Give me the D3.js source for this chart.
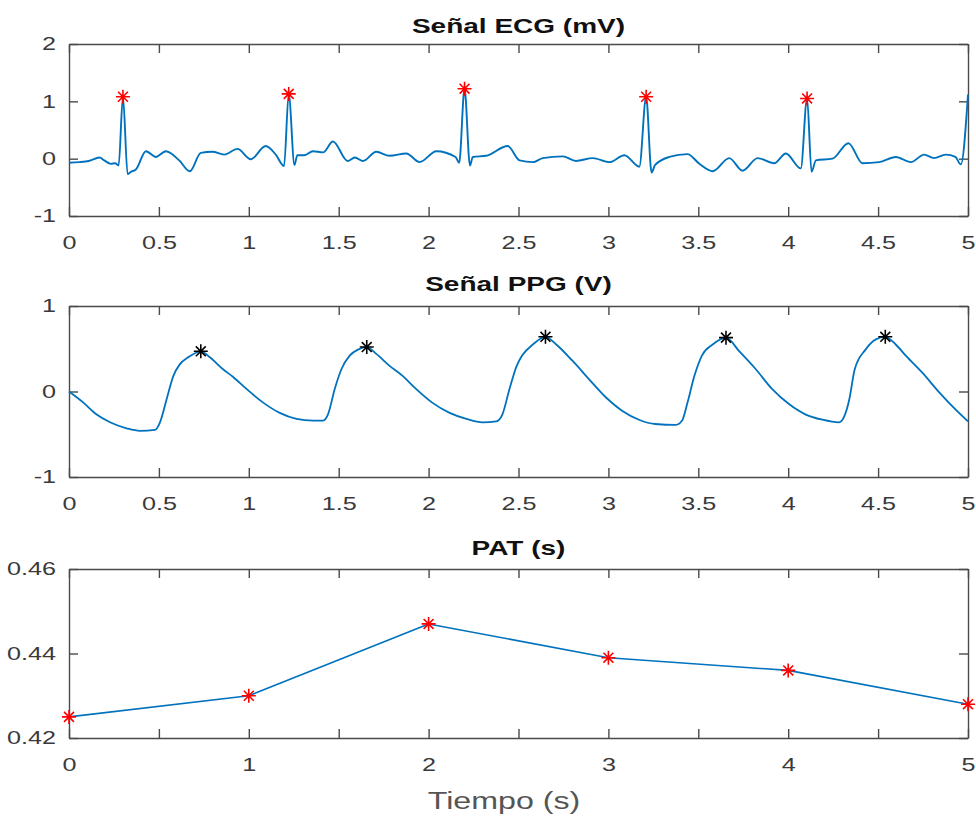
<!DOCTYPE html>
<html>
<head>
<meta charset="utf-8">
<script src="https://cdn.jsdelivr.net/npm/d3@7"></script>
<style>
  body { margin: 0; background: #fff; }
  svg text { font-family: "Liberation Sans", Arial, sans-serif; }
</style>
</head>
<body>
<svg id="fig" width="976" height="820"></svg>
<script>
// ---- ECG signal (mV) ----
const ecgTime = [0.000,0.057,0.110,0.170,0.196,0.233,0.257,0.276,0.300,0.326,0.344,0.372,0.428,0.483,0.539,0.613,0.672,0.733,0.798,0.863,0.937,1.011,1.094,1.150,1.196,1.222,1.254,1.270,1.307,1.357,1.413,1.468,1.550,1.590,1.635,1.709,1.783,1.876,1.950,2.043,2.150,2.170,2.200,2.230,2.246,2.320,2.440,2.506,2.580,2.635,2.746,2.820,2.913,3.006,3.089,3.172,3.210,3.240,3.260,3.339,3.440,3.506,3.580,3.672,3.746,3.830,3.922,3.987,4.070,4.105,4.130,4.154,4.246,4.335,4.413,4.506,4.598,4.682,4.756,4.811,4.876,4.930,4.960,5.000];
const ecgValue = [-0.07,-0.06,-0.04,0.02,-0.03,-0.09,-0.08,-0.12,1.08,-0.27,-0.23,-0.19,0.13,0.03,0.13,-0.03,-0.22,0.10,0.12,0.07,0.17,-0.01,0.22,0.07,-0.13,1.13,-0.11,0.06,0.06,0.13,0.11,0.30,-0.04,0.02,-0.04,0.12,0.05,0.09,-0.06,0.13,0.03,-0.07,1.22,-0.12,0.03,0.05,0.22,-0.03,-0.06,0.01,0.04,-0.04,0.01,-0.06,0.06,-0.14,1.08,-0.24,-0.11,0.03,0.08,-0.09,-0.22,0.01,-0.21,0.01,-0.08,0.09,-0.17,1.05,-0.23,-0.03,0.00,0.27,-0.08,-0.06,0.03,-0.06,0.07,0.01,0.07,0.03,-0.10,1.12];
// R peaks
const rPeakTime  = [0.300,1.222,2.200,3.210,4.105];
const rPeakValue = [1.08,1.13,1.22,1.08,1.05];

// ---- PPG signal (V) ----
const ppgTime = [0.000,0.080,0.154,0.228,0.320,0.394,0.478,0.506,0.543,0.580,0.617,0.663,0.733,0.783,0.857,0.913,0.987,1.080,1.172,1.265,1.357,1.413,1.440,1.478,1.515,1.561,1.607,1.656,1.709,1.783,1.857,1.930,2.020,2.117,2.210,2.300,2.376,2.410,2.450,2.490,2.520,2.580,2.650,2.710,2.800,2.894,2.987,3.080,3.170,3.260,3.376,3.410,3.440,3.478,3.520,3.580,3.654,3.728,3.820,3.910,4.006,4.098,4.190,4.283,4.310,4.340,4.370,4.430,4.487,4.540,4.598,4.654,4.746,4.840,4.930,5.000];
const ppgValue = [0.00,-0.13,-0.27,-0.36,-0.43,-0.46,-0.45,-0.36,-0.09,0.18,0.32,0.40,0.47,0.40,0.26,0.17,0.03,-0.13,-0.25,-0.32,-0.34,-0.34,-0.27,0.03,0.26,0.42,0.49,0.52,0.44,0.30,0.18,0.03,-0.13,-0.25,-0.32,-0.36,-0.35,-0.27,0.03,0.30,0.42,0.55,0.64,0.55,0.36,0.14,-0.07,-0.23,-0.33,-0.38,-0.39,-0.34,-0.13,0.18,0.42,0.55,0.63,0.47,0.26,0.03,-0.15,-0.27,-0.33,-0.36,-0.30,-0.09,0.26,0.49,0.61,0.64,0.55,0.42,0.22,-0.01,-0.21,-0.35];
// PPG systolic peaks
const ppgPeakTime  = [0.733,1.656,2.650,3.654,4.540];
const ppgPeakValue = [0.47,0.52,0.64,0.63,0.64];

// ---- Pulse arrival time (s) ----
const patTime  = [0,1,2,3,4,5];
const patValue = [0.425,0.430,0.447,0.439,0.436,0.428];

// ---- tick values ----
const timeTicks   = [0,0.5,1,1.5,2,2.5,3,3.5,4,4.5,5];
const patTimeLabels = [0,1,2,3,4,5];
const ecgYTicks   = [-1,0,1,2];
const ppgYTicks   = [-1,0,1];
const patYTicks   = [0.42,0.44,0.46];

// ---- text ----
const titles = ["Señal ECG (mV)", "Señal PPG (V)", "PAT (s)"];
const xLabelText = "Tiempo (s)";

// ---- drawing ----
const W = 976, H = 820;
const LEFT = 69, RIGHT = 968;
const LINE = "#0072BD", AXC = "#4a4a4a", TXT = "#3a3a3a";
const SX = 1.4;       // horizontal text stretch of the figure
const TICK = 9;

const svg = d3.select("#fig");
svg.append("rect").attr("width", W).attr("height", H).attr("fill", "#fff");

const x = d3.scaleLinear().domain([0, 5]).range([LEFT, RIGHT]);

function stretchedText(g, px, py, str, size, weight, anchor, fill) {
  return g.append("text")
    .attr("transform", `translate(${px},${py}) scale(${SX},1)`)
    .attr("text-anchor", anchor)
    .attr("font-size", size)
    .attr("font-weight", weight)
    .attr("fill", fill)
    .text(str);
}

function asterisk(r) {
  const a = r * 0.7071;
  return `M${-r},0L${r},0M0,${-r}L0,${r}M${-a},${-a}L${a},${a}M${-a},${a}L${a},${-a}`;
}

function panel(opts) {
  const { top, bottom, yDomain, yTicks, xLabels, title, titleY } = opts;
  const y = d3.scaleLinear().domain(yDomain).range([bottom, top]);
  const g = svg.append("g");

  const fmtX = d => (xLabels.includes(d) ? String(d) : "");
  const styleAxis = sel => {
    sel.select(".domain").attr("stroke", AXC).attr("stroke-width", 1.4);
    sel.selectAll(".tick line").attr("stroke", AXC).attr("stroke-width", 1.4);
    sel.selectAll("text").attr("font-size", 18).attr("fill", TXT)
       .attr("font-family", "Liberation Sans, Arial, sans-serif");
  };

  // bottom
  const gb = g.append("g").attr("transform", `translate(0,${bottom})`)
    .call(d3.axisBottom(x).tickValues(timeTicks).tickFormat(fmtX)
      .tickSizeInner(-TICK).tickSizeOuter(0).tickPadding(20));
  styleAxis(gb);
  gb.selectAll("text").attr("transform", `scale(${SX},1)`);
  // top
  const gt = g.append("g").attr("transform", `translate(0,${top})`)
    .call(d3.axisTop(x).tickValues(timeTicks).tickFormat("")
      .tickSizeInner(-TICK).tickSizeOuter(0));
  styleAxis(gt);
  // left
  const gl = g.append("g").attr("transform", `translate(${LEFT},0)`)
    .call(d3.axisLeft(y).tickValues(yTicks).tickFormat(d => String(d))
      .tickSizeInner(-TICK).tickSizeOuter(0).tickPadding(13));
  styleAxis(gl);
  gl.selectAll("text").attr("x", -13 / SX).attr("transform", `scale(${SX},1)`);
  // right
  const gr = g.append("g").attr("transform", `translate(${RIGHT},0)`)
    .call(d3.axisRight(y).tickValues(yTicks).tickFormat("")
      .tickSizeInner(-TICK).tickSizeOuter(0));
  styleAxis(gr);

  stretchedText(g, (LEFT + RIGHT) / 2, titleY, title, 20, "bold", "middle", "#111");
  return { g, y };
}

function drawLine(p, xs, ys, curve, width) {
  const pts = xs.map((t, i) => [t, ys[i]]);
  p.g.append("path")
    .datum(pts)
    .attr("fill", "none")
    .attr("stroke", LINE)
    .attr("stroke-width", width)
    .attr("stroke-linejoin", "round")
    .attr("d", d3.line().x(d => x(d[0])).y(d => p.y(d[1])).curve(curve));
}

function drawStars(p, xs, ys, color) {
  p.g.selectAll(null)
    .data(xs.map((t, i) => [t, ys[i]]))
    .join("path")
    .attr("transform", d => `translate(${x(d[0])},${p.y(d[1])})`)
    .attr("d", asterisk(7))
    .attr("fill", "none")
    .attr("stroke", color)
    .attr("stroke-width", 1.6);
}

// ECG
const pECG = panel({ top: 44, bottom: 216, yDomain: [-1, 2], yTicks: ecgYTicks,
  xLabels: timeTicks, title: titles[0], titleY: 33 });
drawLine(pECG, ecgTime, ecgValue, d3.curveMonotoneX, 1.9);
drawStars(pECG, rPeakTime, rPeakValue, "#ff0000");

// PPG
const pPPG = panel({ top: 306, bottom: 477, yDomain: [-1, 1], yTicks: ppgYTicks,
  xLabels: timeTicks, title: titles[1], titleY: 291 });
drawLine(pPPG, ppgTime, ppgValue, d3.curveMonotoneX, 1.8);
drawStars(pPPG, ppgPeakTime, ppgPeakValue, "#000000");

// PAT
const pPAT = panel({ top: 569, bottom: 738, yDomain: [0.42, 0.46], yTicks: patYTicks,
  xLabels: patTimeLabels, title: titles[2], titleY: 555 });
drawLine(pPAT, patTime, patValue, d3.curveLinear, 1.6);
drawStars(pPAT, patTime, patValue, "#ff0000");

stretchedText(svg, 504, 809, xLabelText, 23, "normal", "middle", "#555");
</script>
</body>
</html>
